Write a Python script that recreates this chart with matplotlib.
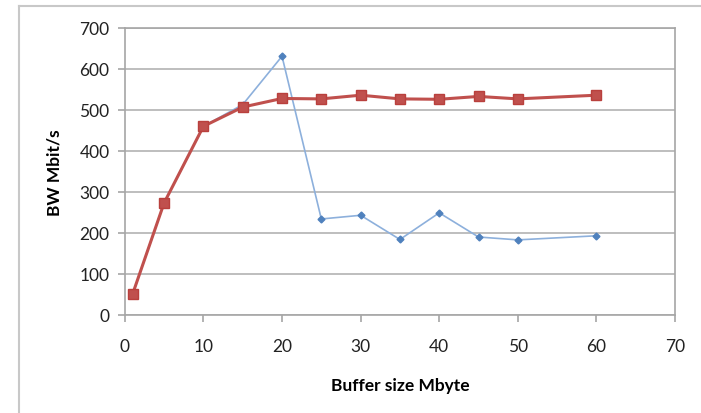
import matplotlib.pyplot as plt
from matplotlib.lines import Line2D

buffer_mb = [1, 5, 10, 15, 20, 25, 30, 35, 40, 45, 50, 60]
bw_blue = [50, 273, 460, 513, 631, 234, 243, 184, 249, 190, 183, 193]
bw_red = [51, 273, 460, 507, 528, 527, 536, 527, 526, 533, 527, 536]

plt.rcParams['font.family'] = ['Lato', 'DejaVu Sans']

fig = plt.figure(figsize=(7.01, 4.14), dpi=100)
ax = fig.add_axes([0.178, 0.237, 0.785, 0.693])

ax.plot(buffer_mb, bw_blue, color='#8DB0DC', lw=1.2, marker='D', ms=3.5,
        mfc='#4F81BD', mec='#4F81BD', zorder=3)
ax.plot(buffer_mb, bw_red, color='#C0504D', lw=2.2, marker='s', ms=7,
        mfc='#C0504D', mec='#B9403D', zorder=4)

ax.set_xlim(0, 70)
ax.set_ylim(0, 700)
ax.set_xticks(range(0, 71, 10))
ax.set_yticks(range(0, 701, 100))
ax.grid(axis='y', color='#b3b3b3', lw=1.2)
ax.set_axisbelow(True)
for s in ax.spines.values():
    s.set_color('#a6a6a6')
    s.set_linewidth(1.2)
ax.tick_params(colors='#a6a6a6', labelcolor='#222222', labelsize=12.5, length=5, width=1.2)
ax.tick_params(axis='x', pad=12)
ax.tick_params(axis='y', pad=6)

ax.set_xlabel('Buffer size Mbyte', fontsize=12.5, fontweight='bold', labelpad=16)
ax.set_ylabel('BW Mbit/s', fontsize=12.5, fontweight='bold', labelpad=12)

# outer chart frame (left and top edges)
fig.add_artist(Line2D([19/701, 19/701], [0, 1 - 7/414], transform=fig.transFigure, color='#c8c8c8', lw=1.5))
fig.add_artist(Line2D([19/701, 1], [1 - 7/414, 1 - 7/414], transform=fig.transFigure, color='#c8c8c8', lw=1.5))

fig.savefig('out.png', dpi=100)
